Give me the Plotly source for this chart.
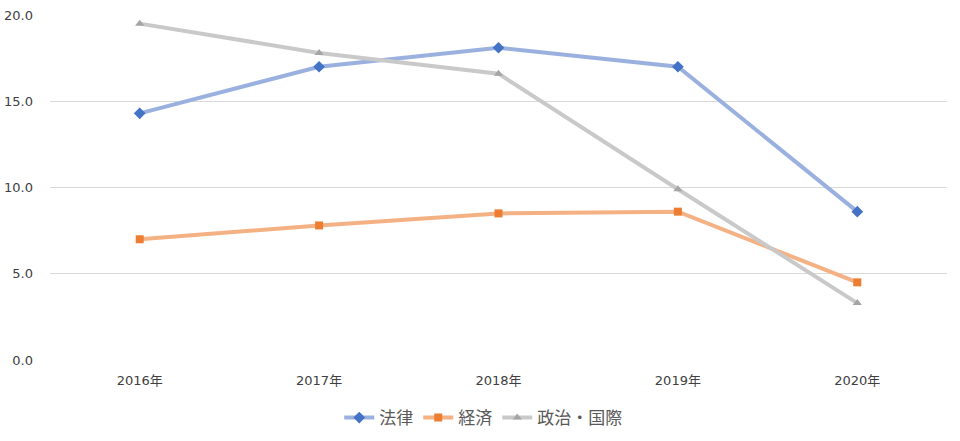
import plotly.graph_objects as go

categories = ["2016年", "2017年", "2018年", "2019年", "2020年"]
law = [14.3, 17.0, 18.1, 17.0, 8.6]
economy = [7.0, 7.8, 8.5, 8.6, 4.5]
politics = [19.5, 17.8, 16.6, 9.9, 3.3]
y_ticks = [0, 5, 10, 15, 20]

series = [
    ("法律", law, "#9AB1E0", "#4472C4", "diamond"),
    ("経済", economy, "#F4B183", "#ED7D31", "square"),
    ("政治・国際", politics, "#C9C9C9", "#A5A5A5", "triangle-up"),
]

fig = go.Figure()
for name, vals, lc, mc, sym in series:
    fig.add_trace(go.Scatter(
        x=categories, y=vals, name=name, mode="lines+markers",
        line=dict(color=lc, width=4),
        marker=dict(color=mc, symbol=sym, size=8 if sym != "diamond" else 9),
    ))

fig.update_layout(
    width=960, height=441,
    margin=dict(l=50, r=13, t=15, b=81, autoexpand=False),
    paper_bgcolor="white", plot_bgcolor="white",
    font=dict(family="Noto Sans CJK JP, sans-serif", color="#595959", size=12),
    showlegend=True,
    legend=dict(orientation="h", x=0.483, xanchor="center",
                yref="container", y=23 / 441, yanchor="middle",
                font=dict(size=17, color="#595959"), itemwidth=30),
    xaxis=dict(type="category", showgrid=False, showline=False, ticks="",
               automargin=False, ticklabelstandoff=11,
               tickfont=dict(family="DejaVu Sans, Noto Sans CJK JP, sans-serif", size=13, color="#404040")),
    yaxis=dict(range=[0, 20], tickvals=y_ticks, tickformat=".1f",
               gridcolor="#D9D9D9", gridwidth=1, zeroline=False, showline=False,
               ticks="", ticklabelstandoff=16, automargin=False,
               tickfont=dict(family="Segoe UI, DejaVu Sans, sans-serif", size=13, color="#404040")),
)
fig.update_xaxes(range=[-0.5, 4.5])

fig.write_html("out.html", config={"displayModeBar": False},
               post_script="document.body.style.margin='0';")
